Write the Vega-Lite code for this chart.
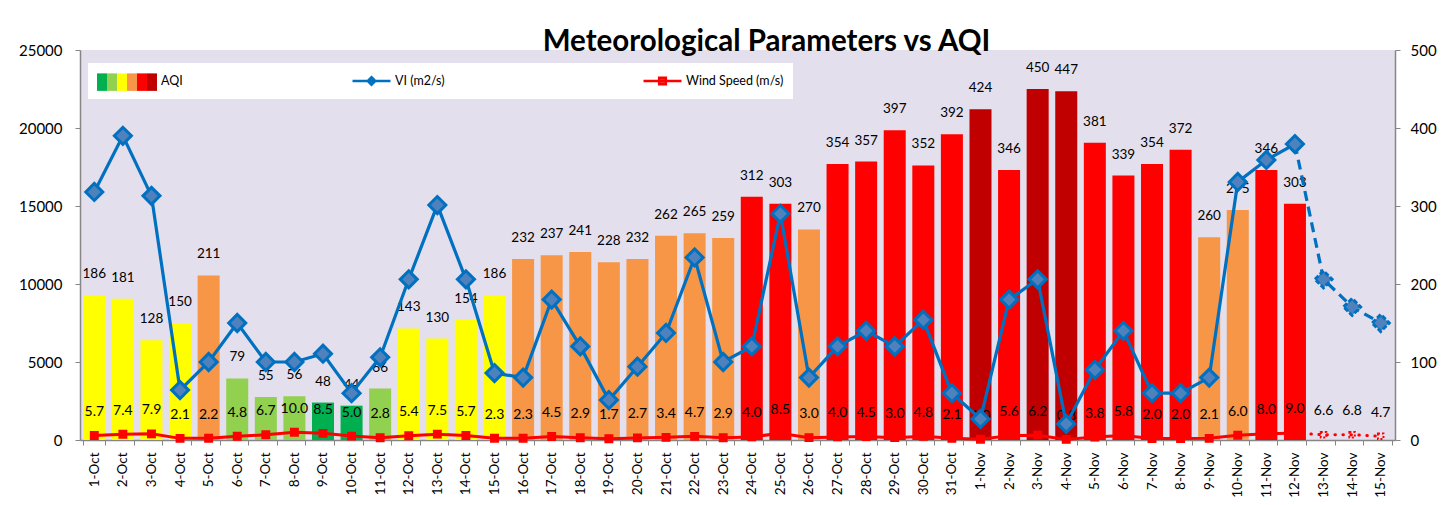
{
  "$schema": "https://vega.github.io/schema/vega-lite/v6.json",
  "width": 1315,
  "height": 390,
  "autosize": {"type": "none"},
  "padding": {"left": 80, "top": 50, "right": 48, "bottom": 65},
  "background": "white",
  "title": {"text": "Meteorological Parameters vs AQI", "font": "Lato", "fontSize": 29.5, "fontWeight": "bold", "color": "#000000", "anchor": "middle", "dx": 29, "offset": -14},
  "config": {
    "font": "Lato",
    "view": {"fill": "#E4DFEC", "stroke": null},
    "axis": {"labelFont": "Lato", "labelColor": "#000000", "grid": false, "domainColor": "#868686", "tickColor": "#868686", "domainWidth": 1.5, "title": null}
  },
  "data": {"values": [
    {"d": "1-Oct", "aqi": 186, "cat": "Moderate", "vi": 15900, "ws": 5.7},
    {"d": "2-Oct", "aqi": 181, "cat": "Moderate", "vi": 19500, "ws": 7.4},
    {"d": "3-Oct", "aqi": 128, "cat": "Moderate", "vi": 15650, "ws": 7.9},
    {"d": "4-Oct", "aqi": 150, "cat": "Moderate", "vi": 3200, "ws": 2.1},
    {"d": "5-Oct", "aqi": 211, "cat": "Poor", "vi": 5000, "ws": 2.2},
    {"d": "6-Oct", "aqi": 79, "cat": "Satisfactory", "vi": 7500, "ws": 4.8},
    {"d": "7-Oct", "aqi": 55, "cat": "Satisfactory", "vi": 5000, "ws": 6.7},
    {"d": "8-Oct", "aqi": 56, "cat": "Satisfactory", "vi": 5000, "ws": 10.0},
    {"d": "9-Oct", "aqi": 48, "cat": "Good", "vi": 5530, "ws": 8.5},
    {"d": "10-Oct", "aqi": 44, "cat": "Good", "vi": 3000, "ws": 5.0},
    {"d": "11-Oct", "aqi": 66, "cat": "Satisfactory", "vi": 5300, "ws": 2.8},
    {"d": "12-Oct", "aqi": 143, "cat": "Moderate", "vi": 10300, "ws": 5.4},
    {"d": "13-Oct", "aqi": 130, "cat": "Moderate", "vi": 15060, "ws": 7.5},
    {"d": "14-Oct", "aqi": 154, "cat": "Moderate", "vi": 10300, "ws": 5.7},
    {"d": "15-Oct", "aqi": 186, "cat": "Moderate", "vi": 4290, "ws": 2.3},
    {"d": "16-Oct", "aqi": 232, "cat": "Poor", "vi": 4000, "ws": 2.3},
    {"d": "17-Oct", "aqi": 237, "cat": "Poor", "vi": 9000, "ws": 4.5},
    {"d": "18-Oct", "aqi": 241, "cat": "Poor", "vi": 6000, "ws": 2.9},
    {"d": "19-Oct", "aqi": 228, "cat": "Poor", "vi": 2560, "ws": 1.7},
    {"d": "20-Oct", "aqi": 232, "cat": "Poor", "vi": 4700, "ws": 2.7},
    {"d": "21-Oct", "aqi": 262, "cat": "Poor", "vi": 6860, "ws": 3.4},
    {"d": "22-Oct", "aqi": 265, "cat": "Poor", "vi": 11700, "ws": 4.7},
    {"d": "23-Oct", "aqi": 259, "cat": "Poor", "vi": 5000, "ws": 2.9},
    {"d": "24-Oct", "aqi": 312, "cat": "Very Poor", "vi": 6000, "ws": 4.0},
    {"d": "25-Oct", "aqi": 303, "cat": "Very Poor", "vi": 14500, "ws": 8.5},
    {"d": "26-Oct", "aqi": 270, "cat": "Poor", "vi": 4000, "ws": 3.0},
    {"d": "27-Oct", "aqi": 354, "cat": "Very Poor", "vi": 6000, "ws": 4.0},
    {"d": "28-Oct", "aqi": 357, "cat": "Very Poor", "vi": 7000, "ws": 4.5},
    {"d": "29-Oct", "aqi": 397, "cat": "Very Poor", "vi": 6000, "ws": 3.0},
    {"d": "30-Oct", "aqi": 352, "cat": "Very Poor", "vi": 7700, "ws": 4.8},
    {"d": "31-Oct", "aqi": 392, "cat": "Very Poor", "vi": 3000, "ws": 2.1},
    {"d": "1-Nov", "aqi": 424, "cat": "Severe", "vi": 1350, "ws": 1.0},
    {"d": "2-Nov", "aqi": 346, "cat": "Very Poor", "vi": 9000, "ws": 5.6},
    {"d": "3-Nov", "aqi": 450, "cat": "Severe", "vi": 10300, "ws": 6.2},
    {"d": "4-Nov", "aqi": 447, "cat": "Severe", "vi": 1030, "ws": 0.8},
    {"d": "5-Nov", "aqi": 381, "cat": "Very Poor", "vi": 4500, "ws": 3.8},
    {"d": "6-Nov", "aqi": 339, "cat": "Very Poor", "vi": 7000, "ws": 5.8},
    {"d": "7-Nov", "aqi": 354, "cat": "Very Poor", "vi": 3000, "ws": 2.0},
    {"d": "8-Nov", "aqi": 372, "cat": "Very Poor", "vi": 3000, "ws": 2.0},
    {"d": "9-Nov", "aqi": 260, "cat": "Poor", "vi": 4000, "ws": 2.1},
    {"d": "10-Nov", "aqi": 295, "cat": "Poor", "vi": 16540, "ws": 6.0},
    {"d": "11-Nov", "aqi": 346, "cat": "Very Poor", "vi": 17950, "ws": 8.0},
    {"d": "12-Nov", "aqi": 303, "cat": "Very Poor", "vi": 18970, "ws": 9.0},
    {"d": "13-Nov", "aqi": null, "cat": null, "vi": 10300, "ws": 6.6},
    {"d": "14-Nov", "aqi": null, "cat": null, "vi": 8530, "ws": 6.8},
    {"d": "15-Nov", "aqi": null, "cat": null, "vi": 7500, "ws": 4.7}
  ]},
  "encoding": {
    "x": {
      "field": "d", "type": "ordinal",
      "sort": ["1-Oct","2-Oct","3-Oct","4-Oct","5-Oct","6-Oct","7-Oct","8-Oct","9-Oct","10-Oct","11-Oct","12-Oct","13-Oct","14-Oct","15-Oct","16-Oct","17-Oct","18-Oct","19-Oct","20-Oct","21-Oct","22-Oct","23-Oct","24-Oct","25-Oct","26-Oct","27-Oct","28-Oct","29-Oct","30-Oct","31-Oct","1-Nov","2-Nov","3-Nov","4-Nov","5-Nov","6-Nov","7-Nov","8-Nov","9-Nov","10-Nov","11-Nov","12-Nov","13-Nov","14-Nov","15-Nov"],
      "scale": {"paddingInner": 0.23, "paddingOuter": 0.115},
      "axis": {"orient": "bottom", "labelAngle": -90, "labelFontSize": 13.5, "labelPadding": 7, "tickSize": 5, "tickBand": "extent"}
    }
  },
  "layer": [
    {
      "layer": [
        {
          "mark": {"type": "bar"},
          "encoding": {
            "y": {"field": "aqi", "type": "quantitative", "scale": {"domain": [0, 500], "nice": false},
                  "axis": {"orient": "right", "values": [0,50,100,150,200,250,300,350,400,450,500], "labelFontSize": 15, "tickSize": 5, "labelPadding": 10}},
            "color": {"field": "cat", "type": "ordinal",
              "scale": {"domain": ["Good", "Satisfactory", "Moderate", "Poor", "Very Poor", "Severe"], "range": ["#00B050", "#92D050", "#FFFF00", "#F79646", "#FF0000", "#C00000"]},
              "legend": {"orient": "none", "legendX": 17, "legendY": 27, "direction": "horizontal", "title": null, "labelExpr": "''", "labelOffset": 0, "labelFontSize": 1, "columnPadding": 0, "padding": 0, "symbolType": "M-1,-1.75H1V1.75H-1Z", "symbolSize": 100, "symbolStrokeWidth": 0, "symbolOpacity": 1, "zindex": 3}
            }
          }
        },
        {
          "mark": {"type": "text", "baseline": "middle", "dy": -21, "fontSize": 13.5, "font": "Lato", "color": "#000000"},
          "encoding": {
            "y": {"field": "aqi", "type": "quantitative", "scale": {"domain": [0, 500], "nice": false}},
            "text": {"field": "aqi", "type": "quantitative"}
          }
        },
        {
          "mark": {"type": "text", "baseline": "middle", "dy": -23.5, "fontSize": 14, "font": "Lato", "color": "#000000"},
          "encoding": {
            "y": {"field": "ws", "type": "quantitative", "scale": {"domain": [0, 500], "nice": false}},
            "text": {"field": "ws", "type": "quantitative", "format": ".1f"}
          }
        },
        {
          "transform": [{"filter": {"not": {"field": "d", "oneOf": ["13-Nov", "14-Nov", "15-Nov"]}}}],
          "mark": {"type": "line", "color": "#FF0000", "strokeWidth": 3},
          "encoding": {"y": {"field": "ws", "type": "quantitative", "scale": {"domain": [0, 500], "nice": false}}}
        },
        {
          "transform": [{"filter": {"field": "d", "oneOf": ["12-Nov", "13-Nov", "14-Nov", "15-Nov"]}}],
          "mark": {"type": "line", "color": "#FF0000", "strokeWidth": 3, "strokeDash": [0.5, 7.5], "strokeCap": "round"},
          "encoding": {"y": {"field": "ws", "type": "quantitative", "scale": {"domain": [0, 500], "nice": false}}}
        },
        {
          "transform": [{"filter": {"not": {"field": "d", "oneOf": ["13-Nov", "14-Nov", "15-Nov"]}}}],
          "mark": {"type": "point", "shape": "square", "size": 55, "filled": true, "fill": "#FF0000", "strokeWidth": 1.5, "opacity": 1},
          "encoding": {
            "y": {"field": "ws", "type": "quantitative", "scale": {"domain": [0, 500], "nice": false}},
            "stroke": {"datum": "Wind Speed (m/s)", "type": "nominal",
              "scale": {"domain": ["AQI", "VI (m2/s)", "Wind Speed (m/s)"], "range": ["rgba(0,0,0,0)", "#0070C0", "#FF0000"]},
              "legend": {"orient": "none", "legendX": 8, "legendY": 13, "direction": "horizontal", "title": null, "fillColor": "#FFFFFF", "padding": 9, "columnPadding": 148, "labelFont": "Lato", "labelFontSize": 12.5, "labelColor": "#000000", "labelOffset": 3,
                "labelExpr": "datum.label === 'VI (m2/s)' ? 'VI (m2/s)\u00a0\u00a0\u00a0\u00a0\u00a0\u00a0\u00a0\u00a0\u00a0\u200b' : datum.label",
                "symbolSize": 3364, "symbolStrokeWidth": 2.5, "symbolOpacity": 1, "clipHeight": 18, "zindex": 1,
                "encoding": {"symbols": {
                  "shape": {"condition": [{"test": "datum.value === 'VI (m2/s)'", "value": "M-0.31,0H1M0.345,-0.13L0.475,0L0.345,0.13L0.215,0Z"}, {"test": "datum.value === 'Wind Speed (m/s)'", "value": "M-0.31,0H1M0.23,-0.11H0.46V0.11H0.23Z"}], "value": "M-1,-0.3H1V0.3H-1Z"},
                  "fill": {"condition": [{"test": "datum.value === 'VI (m2/s)'", "value": "#4F81BD"}, {"test": "datum.value === 'Wind Speed (m/s)'", "value": "#C0504D"}], "value": "rgba(0,0,0,0)"}
                }}
              }
            }
          }
        },
        {
          "transform": [{"filter": {"field": "d", "oneOf": ["13-Nov", "14-Nov", "15-Nov"]}}],
          "mark": {"type": "point", "shape": "square", "size": 30, "filled": false, "stroke": "#FF0000", "strokeWidth": 2, "strokeDash": [2, 2], "opacity": 1},
          "encoding": {"y": {"field": "ws", "type": "quantitative", "scale": {"domain": [0, 500], "nice": false}}}
        }
      ]
    },
    {
      "layer": [
        {
          "transform": [{"filter": {"not": {"field": "d", "oneOf": ["13-Nov", "14-Nov", "15-Nov"]}}}],
          "mark": {"type": "line", "color": "#0070C0", "strokeWidth": 3.2},
          "encoding": {
            "y": {"field": "vi", "type": "quantitative", "scale": {"domain": [0, 25000], "nice": false},
                  "axis": {"orient": "left", "values": [0,5000,10000,15000,20000,25000], "format": "d", "labelFontSize": 15, "tickSize": 5, "labelPadding": 13}}
          }
        },
        {
          "transform": [{"filter": {"field": "d", "oneOf": ["12-Nov", "13-Nov", "14-Nov", "15-Nov"]}}],
          "mark": {"type": "line", "color": "#0070C0", "strokeWidth": 3.2, "strokeDash": [10, 6]},
          "encoding": {"y": {"field": "vi", "type": "quantitative", "scale": {"domain": [0, 25000], "nice": false}}}
        },
        {
          "transform": [{"filter": {"not": {"field": "d", "oneOf": ["13-Nov", "14-Nov", "15-Nov"]}}}],
          "mark": {"type": "point", "shape": "diamond", "size": 290, "filled": true, "fill": "#4F81BD", "strokeWidth": 3, "opacity": 1},
          "encoding": {
            "y": {"field": "vi", "type": "quantitative", "scale": {"domain": [0, 25000], "nice": false}},
            "stroke": {"datum": "VI (m2/s)", "type": "nominal",
              "scale": {"domain": ["AQI", "VI (m2/s)", "Wind Speed (m/s)"], "range": ["rgba(0,0,0,0)", "#0070C0", "#FF0000"]},
              "legend": {"orient": "none", "legendX": 8, "legendY": 13, "direction": "horizontal", "title": null, "fillColor": "#FFFFFF", "padding": 9, "columnPadding": 148, "labelFont": "Lato", "labelFontSize": 12.5, "labelColor": "#000000", "labelOffset": 3,
                "labelExpr": "datum.label === 'VI (m2/s)' ? 'VI (m2/s)\u00a0\u00a0\u00a0\u00a0\u00a0\u00a0\u00a0\u00a0\u00a0\u200b' : datum.label",
                "symbolSize": 3364, "symbolStrokeWidth": 2.5, "symbolOpacity": 1, "clipHeight": 18, "zindex": 1,
                "encoding": {"symbols": {
                  "shape": {"condition": [{"test": "datum.value === 'VI (m2/s)'", "value": "M-0.31,0H1M0.345,-0.13L0.475,0L0.345,0.13L0.215,0Z"}, {"test": "datum.value === 'Wind Speed (m/s)'", "value": "M-0.31,0H1M0.23,-0.11H0.46V0.11H0.23Z"}], "value": "M-1,-0.3H1V0.3H-1Z"},
                  "fill": {"condition": [{"test": "datum.value === 'VI (m2/s)'", "value": "#4F81BD"}, {"test": "datum.value === 'Wind Speed (m/s)'", "value": "#C0504D"}], "value": "rgba(0,0,0,0)"}
                }}
              }
            }
          }
        },
        {
          "transform": [{"filter": {"field": "d", "oneOf": ["13-Nov", "14-Nov", "15-Nov"]}}],
          "mark": {"type": "point", "shape": "diamond", "size": 290, "filled": true, "fill": "#4F81BD", "stroke": "#0070C0", "strokeWidth": 3, "strokeDash": [5, 2], "opacity": 1},
          "encoding": {"y": {"field": "vi", "type": "quantitative", "scale": {"domain": [0, 25000], "nice": false}}}
        }
      ]
    }
  ],
  "resolve": {"scale": {"y": "independent"}}
}
